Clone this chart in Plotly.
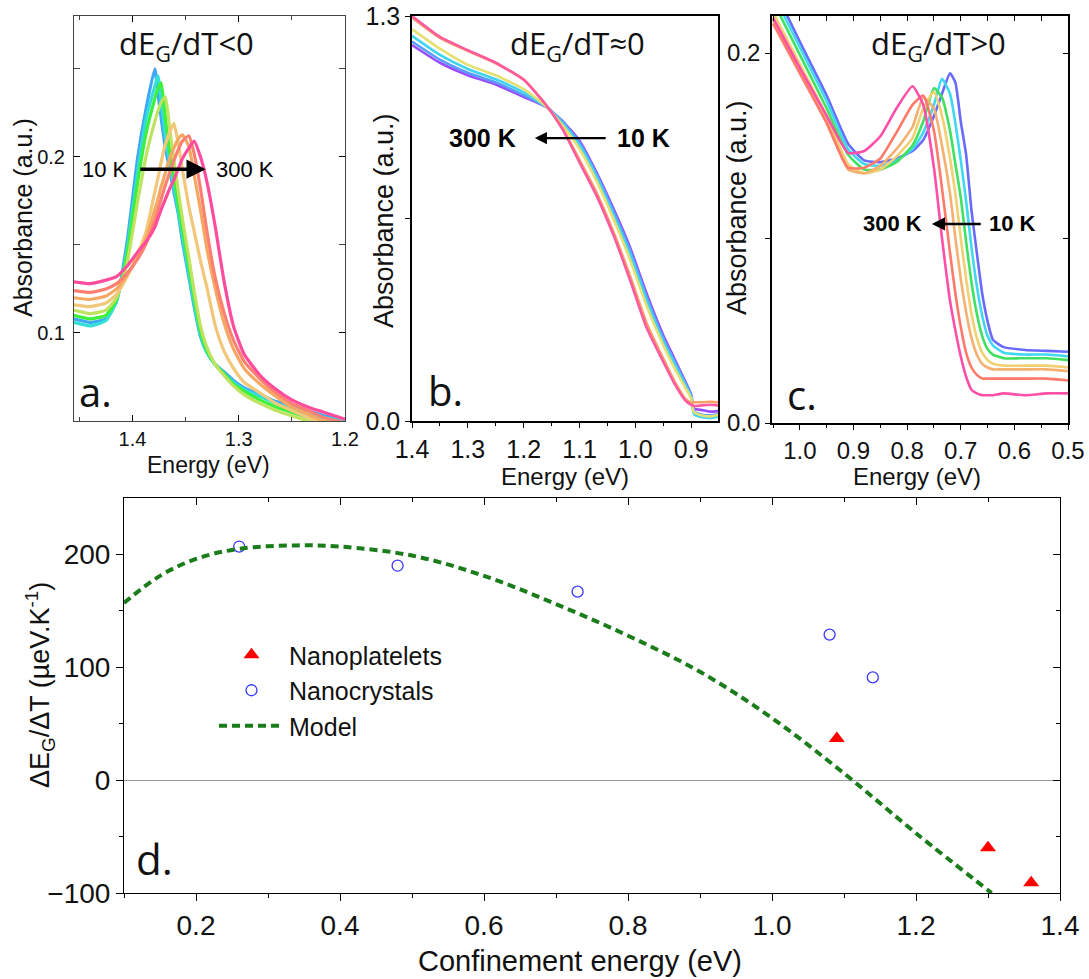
import plotly.graph_objects as go

W, H = 1089, 979

# ---------------- panel a : dEg/dT < 0 ----------------
energy_a = [1.455, 1.44, 1.425, 1.415, 1.405, 1.395, 1.387, 1.379, 1.376, 1.373, 1.369, 1.365,
            1.361, 1.357, 1.353, 1.347, 1.342, 1.336, 1.33, 1.322, 1.314, 1.305, 1.295, 1.28,
            1.265, 1.25, 1.235, 1.22, 1.20]
abs_a_10K = [.108, .106, .108, .118, .152, .200, .228, .250, .236, .222, .205, .193, .180, .168, .152,
             .132, .115, .098, .089, .082, .078, .073, .069, .065, .061, .059, .056, .053, .051]
abs_a_30K = [.106, .104, .107, .118, .148, .192, .222, .240, .246, .232, .212, .197, .183, .170, .155,
             .134, .117, .099, .089, .082, .077, .072, .068, .064, .060, .057, .054, .052, .050]
abs_a_80K = [.110, .108, .110, .119, .145, .186, .214, .233, .239, .242, .222, .203, .188, .174, .159,
             .138, .120, .101, .090, .082, .077, .071, .067, .062, .058, .055, .052, .050, .048]
abs_a_120K = [.113, .111, .113, .120, .140, .175, .201, .220, .226, .231, .234, .216, .198, .181, .165,
              .143, .124, .104, .092, .082, .076, .070, .065, .060, .056, .053, .050, .048, .046]
abs_a_160K = [.116, .115, .117, .122, .132, .145, .158, .180, .188, .197, .207, .214, .219, .208, .193,
              .172, .158, .141, .126, .104, .090, .080, .072, .066, .060, .056, .052, .049, .046]
abs_a_200K = [.120, .119, .121, .125, .133, .143, .154, .170, .176, .183, .191, .199, .205, .210, .2125,
              .206, .190, .170, .148, .125, .106, .091, .080, .071, .064, .058, .054, .050, .047]
abs_a_250K = [.124, .123, .125, .128, .134, .142, .151, .164, .170, .176, .184, .191, .198, .204, .209,
              .212, .202, .182, .158, .131, .112, .096, .084, .074, .066, .060, .056, .052, .049]
abs_a_300K = [.129, .128, .130, .132, .138, .146, .152, .160, .165, .170, .176, .182, .187, .193, .199,
              .205, .209, .200, .186, .160, .130, .104, .088, .076, .068, .062, .058, .055, .051]
series_a = [abs_a_10K, abs_a_30K, abs_a_80K, abs_a_120K, abs_a_160K, abs_a_200K, abs_a_250K, abs_a_300K]
colors_a = ["#3fa7f5", "#33e0d8", "#3cf03c", "#bfe35f", "#f2c77a", "#f6a862", "#ff8070", "#ff4c9c"]

# ---------------- panel b : dEg/dT ~ 0 ----------------
energy_b = [1.40, 1.35, 1.30, 1.25, 1.20, 1.16, 1.13, 1.10, 1.07, 1.04, 1.01, 0.98, 0.95, 0.93,
            0.91, 0.90, 0.895, 0.88, 0.865, 0.85]
abs_b_10K = [1.207, 1.150, 1.110, 1.080, 1.040, 1.008, 0.962, 0.900, 0.800, 0.685, 0.560, 0.410,
             0.275, 0.200, 0.125, 0.085, 0.040, 0.035, 0.030, 0.032]
abs_b_50K = [1.218, 1.160, 1.118, 1.087, 1.046, 1.009, 0.960, 0.893, 0.793, 0.676, 0.550, 0.400,
             0.266, 0.192, 0.120, 0.082, 0.030, 0.020, 0.018, 0.022]
abs_b_100K = [1.236, 1.175, 1.130, 1.097, 1.055, 1.009, 0.955, 0.885, 0.785, 0.665, 0.538, 0.388,
              0.256, 0.184, 0.114, 0.078, 0.022, 0.012, 0.010, 0.015]
abs_b_150K = [1.258, 1.195, 1.143, 1.110, 1.065, 1.010, 0.948, 0.873, 0.772, 0.652, 0.520, 0.370,
              0.243, 0.170, 0.105, 0.072, 0.028, 0.018, 0.015, 0.020]
abs_b_250K = [1.295, 1.230, 1.188, 1.148, 1.096, 1.014, 0.938, 0.838, 0.735, 0.610, 0.468, 0.315,
              0.200, 0.128, 0.070, 0.058, 0.060, 0.060, 0.062, 0.060]
abs_b_300K = [1.300, 1.233, 1.190, 1.150, 1.095, 1.015, 0.935, 0.830, 0.725, 0.600, 0.455, 0.300,
              0.190, 0.120, 0.065, 0.052, 0.048, 0.050, 0.052, 0.050]
series_b = [abs_b_10K, abs_b_50K, abs_b_100K, abs_b_150K, abs_b_250K, abs_b_300K]
colors_b = ["#9a4dff", "#5a9cff", "#40d4f0", "#e6e070", "#f8a060", "#ff5aa0"]

# ---------------- panel c : dEg/dT > 0 ----------------
energy_c = [1.05, 1.0, 0.95, 0.91, 0.88, 0.85, 0.82, 0.79, 0.77, 0.75, 0.735, 0.72, 0.71, 0.70,
            0.69, 0.68, 0.67, 0.66, 0.65, 0.64, 0.62, 0.58, 0.54, 0.50]
abs_c_10K = [0.236, 0.206, 0.177, 0.151, 0.142, 0.141, 0.143, 0.147, 0.153, 0.166, 0.178, 0.189,
             0.184, 0.163, 0.145, 0.115, 0.092, 0.070, 0.055, 0.045, 0.041, 0.0395, 0.039, 0.0385]
abs_c_50K = [0.232, 0.203, 0.174, 0.148, 0.140, 0.139, 0.142, 0.148, 0.157, 0.172, 0.186, 0.178,
             0.162, 0.142, 0.120, 0.095, 0.074, 0.058, 0.047, 0.042, 0.038, 0.037, 0.037, 0.036]
abs_c_100K = [0.228, 0.199, 0.170, 0.145, 0.137, 0.137, 0.141, 0.150, 0.163, 0.181, 0.176, 0.158,
              0.140, 0.122, 0.098, 0.076, 0.059, 0.047, 0.040, 0.037, 0.035, 0.035, 0.035, 0.034]
abs_c_150K = [0.222, 0.194, 0.166, 0.140, 0.135, 0.137, 0.144, 0.154, 0.170, 0.179, 0.166, 0.143,
              0.124, 0.100, 0.078, 0.059, 0.046, 0.038, 0.034, 0.032, 0.031, 0.031, 0.031, 0.030]
abs_c_200K = [0.218, 0.190, 0.163, 0.137, 0.135, 0.139, 0.148, 0.160, 0.176, 0.170, 0.150, 0.124,
              0.100, 0.078, 0.060, 0.046, 0.037, 0.032, 0.030, 0.029, 0.029, 0.029, 0.029, 0.028]
abs_c_250K = [0.216, 0.189, 0.162, 0.138, 0.138, 0.143, 0.157, 0.172, 0.177, 0.158, 0.127, 0.092,
              0.070, 0.052, 0.038, 0.030, 0.026, 0.024, 0.024, 0.024, 0.024, 0.024, 0.024, 0.023]
abs_c_300K = [0.219, 0.192, 0.166, 0.146, 0.147, 0.155, 0.170, 0.182, 0.172, 0.138, 0.100, 0.066,
              0.050, 0.036, 0.025, 0.018, 0.016, 0.015, 0.015, 0.015, 0.016, 0.015, 0.016, 0.016]
series_c = [abs_c_10K, abs_c_50K, abs_c_100K, abs_c_150K, abs_c_200K, abs_c_250K, abs_c_300K]
colors_c = ["#6a6aff", "#40d8f0", "#40e060", "#f0d070", "#f5b070", "#ff7a6a", "#ff4fa8"]

# ---------------- panel d ----------------
conf_platelets = [1.09, 1.30, 1.36]
slope_platelets = [37, -60, -91]
conf_crystals = [0.26, 0.48, 0.73, 1.08, 1.14]
slope_crystals = [207, 190, 167, 129, 91]
conf_model = [0.1, 0.15, 0.2, 0.26, 0.34, 0.4, 0.5, 0.6, 0.7, 0.8, 0.9, 1.0, 1.1, 1.2, 1.305]
slope_model = [157, 181, 196, 205, 208, 207, 199, 181, 156, 128, 96, 55, 6, -47, -100]

fig = go.Figure()

def add_spectra(energy, series, colors, xa, ya, width):
    for vals, col in zip(series, colors):
        fig.add_trace(go.Scatter(x=energy, y=vals, mode="lines", xaxis=xa, yaxis=ya,
                                 line=dict(color=col, width=width, shape="spline", smoothing=0.5),
                                 showlegend=False, hoverinfo="skip"))

add_spectra(energy_a, series_a, colors_a, "x", "y", 3.2)
add_spectra(energy_b, series_b, colors_b, "x2", "y2", 2.6)
add_spectra(energy_c, series_c, colors_c, "x3", "y3", 2.6)

fig.add_trace(go.Scatter(x=conf_platelets, y=slope_platelets, mode="markers", name="Nanoplatelets",
                         xaxis="x4", yaxis="y4",
                         marker=dict(symbol="triangle-up", size=14, color="#ff0000")))
fig.add_trace(go.Scatter(x=conf_crystals, y=slope_crystals, mode="markers", name="Nanocrystals",
                         xaxis="x4", yaxis="y4",
                         marker=dict(symbol="circle-open", size=11, color="#3a3aff",
                                     line=dict(width=1.3, color="#3a3aff"))))
fig.add_trace(go.Scatter(x=conf_model, y=slope_model, mode="lines", name="Model",
                         xaxis="x4", yaxis="y4",
                         line=dict(color="#1a7d1a", width=4, dash="8px,5px", shape="spline")))
# empty traces so the mirrored inside-tick axes are drawn
fig.add_trace(go.Scatter(x=[None], y=[None], xaxis="x5", yaxis="y5", showlegend=False))
fig.add_trace(go.Scatter(x=[None], y=[None], xaxis="x6", yaxis="y6", showlegend=False))

TF = "Liberation Sans, Arial, sans-serif"

def axis(size, **kw):
    d = dict(showline=True, linecolor="black", linewidth=1, showgrid=False, zeroline=False,
             ticks="outside", ticklen=5, tickcolor="black", automargin=False,
             tickfont=dict(family=TF, size=size, color="#111"))
    d.update(kw)
    return d

def overlay(**kw):
    d = dict(showline=False, showgrid=False, zeroline=False, showticklabels=False,
             ticks="inside", tickcolor="black", automargin=False)
    d.update(kw)
    return d

ya_dom = [1 - 421 / H, 1 - 16 / H]
fig.update_layout(
    width=W, height=H, margin=dict(l=0, r=0, t=0, b=0, pad=0, autoexpand=False),
    paper_bgcolor="white", plot_bgcolor="white",
    xaxis=axis(20, domain=[74 / W, 345 / W], range=[1.455, 1.20], anchor="y", ticks="inside",
               mirror="ticks", linecolor="#444", tickvals=[1.4, 1.3, 1.2], ticktext=["1.4", "1.3", "1.2"],
               ticklen=6, minor=dict(tickvals=[1.45, 1.35, 1.25], ticks="inside", ticklen=4, tickcolor="#444")),
    yaxis=axis(20, domain=ya_dom, range=[0.05, 0.28], anchor="x", ticks="inside", mirror="ticks",
               linecolor="#444", tickvals=[0.1, 0.2], ticktext=["0.1", "0.2"], ticklen=6,
               ticklabelstandoff=4,
               minor=dict(tickvals=[0.15, 0.25], ticks="inside", ticklen=6, tickcolor="#444")),
    xaxis2=axis(25, domain=[412 / W, 718 / W], range=[1.4, 0.852], anchor="y2", mirror=True,
                linewidth=1.5, dtick=0.1, tick0=0.9, tickformat=".1f",
                minor=dict(dtick=0.05, tick0=0.9, ticks="outside", ticklen=3)),
    yaxis2=axis(25, domain=ya_dom, range=[0, 1.3], anchor="x2", mirror=True, linewidth=1.5,
                tickvals=[0, 0.65, 1.3], ticktext=["0.0", "", "1.3"]),
    xaxis3=axis(24, domain=[772 / W, 1068 / W], range=[1.052, 0.5], anchor="y3", mirror=True,
                linewidth=1.5, dtick=0.1, tick0=0.5, tickformat=".1f",
                minor=dict(dtick=0.05, tick0=0.5, ticks="outside", ticklen=3)),
    yaxis3=axis(24, domain=[1 - 423 / H, 1 - 16 / H], range=[0, 0.22], anchor="x3", mirror=True,
                linewidth=1.5, tickvals=[0, 0.1, 0.2], ticktext=["0.0", "", "0.2"]),
    xaxis5=overlay(overlaying="x3", anchor="y3", side="top", range=[1.052, 0.5], ticklen=5,
                   dtick=0.05, tick0=0.5),
    yaxis5=overlay(overlaying="y3", anchor="x3", side="right", range=[0, 0.22], ticklen=5,
                   tickvals=[0, 0.1, 0.2]),
    xaxis4=axis(28, domain=[124 / W, 1060 / W], range=[0.1, 1.4], anchor="y4", mirror=True,
                dtick=0.2, tick0=0.2, tickformat=".1f", ticklen=7,
                minor=dict(dtick=0.1, tick0=0.1, ticks="outside", ticklen=4)),
    yaxis4=axis(28, domain=[1 - 893 / H, 1 - 498 / H], range=[-100, 250], anchor="x4", mirror=True,
                tickvals=[-100, 0, 100, 200], ticklen=7, zeroline=True, zerolinecolor="#999",
                zerolinewidth=1, minor=dict(tickvals=[-50, 50, 150], ticks="outside", ticklen=4)),
    xaxis6=overlay(overlaying="x4", anchor="y4", side="top", range=[0.1, 1.4], ticklen=7,
                   dtick=0.2, tick0=0.2, minor=dict(dtick=0.1, tick0=0.1, ticks="inside", ticklen=4)),
    yaxis6=overlay(overlaying="y4", anchor="x4", side="right", range=[-100, 250], ticklen=7,
                   tickvals=[-100, 0, 100, 200],
                   minor=dict(tickvals=[-50, 50, 150], ticks="inside", ticklen=4)),
    legend=dict(x=214 / W, y=1 - 632 / H, xanchor="left", yanchor="top", bgcolor="rgba(0,0,0,0)",
                font=dict(family=TF, size=25, color="#111"), itemwidth=65, tracegroupgap=0),
    showlegend=True,
)

ann = []

def txt(x, y, text, size, family="Open Sans, sans-serif", angle=0, bold=False, color="#111"):
    if bold:
        text = "<b>" + text + "</b>"
    ann.append(dict(x=x / W, y=1 - y / H, xref="paper", yref="paper", text=text, showarrow=False,
                    textangle=angle, xanchor="center", yanchor="middle",
                    font=dict(family=family, size=size, color=color)))

# panel titles
txt(186, 45, "dE<sub>G</sub>/dT&lt;0", 31)
txt(577, 45, "dE<sub>G</sub>/dT≈0", 31)
txt(938, 45, "dE<sub>G</sub>/dT&gt;0", 31)
# panel letters
txt(95, 392, "a.", 40)
txt(445, 390, "b.", 40)
txt(802, 394, "c.", 40)
txt(154, 858, "d.", 42)
# axis titles
txt(209, 465, "Energy (eV)", 23, TF)
txt(23, 218, "Absorbance (a.u.)", 25, TF, -90)
txt(565, 476, "Energy (eV)", 24, TF)
txt(384, 221, "Absorbance (a.u.)", 27, TF, -90)
txt(917, 476, "Energy (eV)", 24, TF)
txt(737, 208, "Absorbance (a.u.)", 27, TF, -90)
txt(580, 961, "Confinement energy (eV)", 29, TF)
txt(40, 685, "ΔE<sub>G</sub>/ΔT (µeV.K<sup>-1</sup>)", 27, TF, -90)

# temperature labels (data coordinates)
def dtxt(x, y, text, xr, yr, size, bold=False):
    if bold:
        text = "<b>" + text + "</b>"
    ann.append(dict(x=x, y=y, xref=xr, yref=yr, text=text, showarrow=False,
                    font=dict(family=TF, size=size, color="black")))

def arrow(x_head, x_tail, y, xr, yr, w, size):
    ann.append(dict(x=x_head, y=y, ax=x_tail, ay=y, xref=xr, yref=yr, axref=xr, ayref=yr,
                    text="", showarrow=True, arrowhead=2, arrowwidth=w, arrowsize=size,
                    arrowcolor="black"))

dtxt(1.426, 0.193, "10 K", "x", "y", 22)
dtxt(1.294, 0.193, "300 K", "x", "y", 22)
arrow(1.331, 1.394, 0.193, "x", "y", 3.5, 1.1)

dtxt(1.273, 0.908, "300 K", "x2", "y2", 25, True)
dtxt(0.985, 0.908, "10 K", "x2", "y2", 25, True)
arrow(1.18, 1.0505, 0.908, "x2", "y2", 2.2, 1.1)

dtxt(0.8265, 0.1076, "300 K", "x3", "y3", 22, True)
dtxt(0.604, 0.1076, "10 K", "x3", "y3", 22, True)
arrow(0.754, 0.660, 0.1076, "x3", "y3", 2.4, 1.1)

fig.update_layout(annotations=ann)
fig.write_html("out.html", config={"displayModeBar": False},
               post_script="document.body.style.margin='0';document.body.style.overflow='hidden';")
